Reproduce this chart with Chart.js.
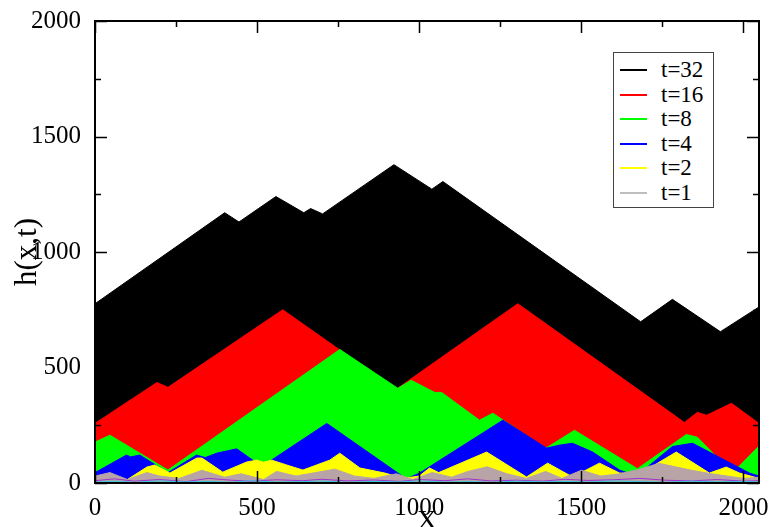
<!DOCTYPE html>
<html>
<head>
<meta charset="utf-8">
<script src="https://cdn.jsdelivr.net/npm/chart.js@4.4.0/dist/chart.umd.min.js"></script>
<style>
  html, body { margin: 0; padding: 0; background: #fff; }
  #wrap { position: relative; width: 772px; height: 527px; }
  #legend {
    position: absolute; left: 613px; top: 52px; width: 99px; height: 154px;
    border: 1px solid #444; background: #fff;
    font-family: 'Liberation Serif', 'Times New Roman', serif; font-size: 23px; color: #000;
  }
  .row { position: absolute; left: 0; width: 99px; height: 24px; line-height: 24px; }
  .sw { position: absolute; left: 6px; top: 11px; width: 27px; height: 2px; }
  .lb { position: absolute; left: 47px; top: 0; white-space: nowrap; }
</style>
</head>
<body>
<div id="wrap">
  <canvas id="chart" width="772" height="527"></canvas>
  <div id="legend"></div>
</div>
<script>
// series, top of the legend first
const labels = ['t=32', 't=16', 't=8', 't=4', 't=2', 't=1'];
const colors = ['#000000', '#ff0000', '#00ff00', '#0000ff', '#ffff00', '#b8a4a6'];
const legendColors = ['#000000', '#ff0000', '#00ff00', '#0000ff', '#ffff00', '#bebebe'];

// h(x,t) profiles, vertices
const x32 = [0, 400, 444, 558, 644, 665, 702, 922, 1039, 1073, 1683, 1781, 1929, 2048];
const h32 = [776, 1170, 1130, 1240, 1170, 1188, 1165, 1378, 1272, 1305, 698, 795, 655, 762];

const x16 = [0, 191, 225, 579, 928, 1304, 1818, 1858, 1886, 1963, 2048];
const h16 = [258, 435, 414, 750, 405, 776, 262, 306, 293, 345, 258];

const x8 = [0, 46, 225, 755, 934, 975, 1048, 1069, 1186, 1227, 1390, 1479, 1673, 1824, 1858, 1966, 2048];
const h8 = [177, 207, 56, 578, 410, 445, 392, 392, 272, 302, 150, 228, 62, 210, 198, 43, 160];

const x4 = [0, 97, 110, 138, 225, 313, 340, 375, 437, 508, 530, 715, 960, 1001, 1258, 1393, 1433, 1473, 1535, 1618, 1670, 1781, 1843, 2019, 2048];
const h4 = [45, 121, 113, 121, 45, 121, 110, 129, 148, 78, 86, 258, 18, 43, 272, 151, 164, 172, 134, 56, 30, 158, 172, 43, 30];

const x2 = [0, 100, 160, 185, 231, 314, 330, 394, 468, 499, 520, 545, 591, 641, 724, 755, 817, 894, 950, 1000, 1032, 1060, 1208, 1331, 1396, 1473, 1556, 1618, 1680, 1793, 1895, 1947, 1988, 2048];
const h2 = [25, 15, 69, 78, 43, 108, 108, 47, 91, 99, 90, 99, 78, 56, 99, 129, 65, 43, 20, 30, 65, 45, 134, 26, 86, 26, 86, 43, 40, 134, 43, 69, 43, 20];

const x1 = [0, 46, 100, 160, 200, 260, 330, 400, 450, 520, 560, 620, 680, 740, 800, 860, 930, 980, 1040, 1100, 1150, 1210, 1270, 1330, 1390, 1440, 1500, 1560, 1620, 1680, 1740, 1790, 1840, 1900, 1950, 2000, 2048];
const h1 = [30, 45, 15, 45, 30, 20, 55, 25, 40, 15, 50, 30, 45, 60, 30, 20, 40, 15, 45, 25, 50, 70, 40, 20, 50, 20, 55, 30, 40, 60, 85, 70, 55, 40, 30, 20, 25];

// faint low curves near the bottom (not in the legend)
const xLow = [0, 60, 120, 200, 280, 350, 420, 480, 560, 640, 700, 780, 860, 940, 1000, 1080, 1150, 1220, 1300, 1380, 1450, 1520, 1600, 1680, 1760, 1840, 1920, 2000, 2048];
const hPurple = [10, 18, 8, 15, 6, 20, 12, 8, 14, 10, 16, 9, 13, 7, 15, 10, 18, 9, 12, 8, 16, 11, 14, 20, 12, 9, 15, 8, 10];
const hCyan = [4, 8, 3, 9, 5, 7, 3, 10, 4, 6, 8, 3, 7, 5, 9, 4, 6, 3, 8, 5, 7, 4, 9, 6, 3, 8, 5, 7, 4];

const xTickVals = [0, 500, 1000, 1500, 2000];
const yTickVals = [0, 500, 1000, 1500, 2000];
const xMinor = [250, 750, 1250, 1750];
const yMinor = [250, 750, 1250, 1750];

const seriesX = [x32, x16, x8, x4, x2, x1];
const seriesH = [h32, h16, h8, h4, h2, h1];

function pts(xs, hs) {
    return xs.map((x, i) => ({ x: x, y: hs[i] }));
}

// dataset 0 is drawn last, so the smallest t goes first
const datasets = [
    { data: pts(xLow, hCyan), borderColor: '#30c8e0', borderWidth: 1, fill: false, pointRadius: 0 },
    { data: pts(xLow, hPurple), borderColor: '#a030d0', borderWidth: 1, fill: false, pointRadius: 0 }
];
for (let i = labels.length - 1; i >= 0; i--) {
    datasets.push({
        label: labels[i],
        data: pts(seriesX[i], seriesH[i]),
        borderColor: colors[i],
        backgroundColor: colors[i],
        borderWidth: 1,
        fill: 'origin',
        pointRadius: 0,
        tension: 0
    });
}

// legend box
const legend = document.getElementById('legend');
labels.forEach((lab, i) => {
    const row = document.createElement('div');
    row.className = 'row';
    row.style.top = (5 + i * 24.6) + 'px';
    row.innerHTML = '<span class="sw" style="background:' + legendColors[i] + '"></span><span class="lb">' + lab + '</span>';
    legend.appendChild(row);
});

const serif = "'Liberation Serif', 'Times New Roman', serif";

// inward ticks and the frame
const frame = {
    id: 'frame',
    afterDraw(chart) {
        const { ctx, chartArea: a, scales: { x, y } } = chart;
        ctx.save();
        ctx.strokeStyle = '#000';
        ctx.lineWidth = 1.5;
        ctx.beginPath();
        const tick = (vals, len) => {
            vals.forEach(v => {
                const px = Math.round(x.getPixelForValue(v)) + 0.5;
                ctx.moveTo(px, a.top); ctx.lineTo(px, a.top + len);
                ctx.moveTo(px, a.bottom); ctx.lineTo(px, a.bottom - len);
            });
        };
        const tickY = (vals, len) => {
            vals.forEach(v => {
                const py = Math.round(y.getPixelForValue(v)) + 0.5;
                ctx.moveTo(a.left, py); ctx.lineTo(a.left + len, py);
                ctx.moveTo(a.right, py); ctx.lineTo(a.right - len, py);
            });
        };
        tick(xTickVals, 12);
        tick(xMinor, 6);
        tickY(yTickVals, 12);
        tickY(yMinor, 6);
        ctx.stroke();
        ctx.lineWidth = 2;
        ctx.strokeRect(a.left, a.top, a.right - a.left, a.bottom - a.top);
        ctx.restore();
    }
};

new Chart(document.getElementById('chart'), {
    type: 'line',
    data: { datasets: datasets },
    options: {
        responsive: false,
        animation: false,
        layout: { padding: { top: 19, right: 13, left: 0, bottom: 0 } },
        plugins: { legend: { display: false }, tooltip: { enabled: false } },
        scales: {
            x: {
                type: 'linear',
                min: 0,
                max: 2048,
                grid: { display: false },
                border: { display: false },
                afterBuildTicks: s => { s.ticks = xTickVals.map(v => ({ value: v })); },
                afterFit: s => { s.height = 44; },
                ticks: { color: '#000', padding: 2, maxRotation: 0, autoSkip: false, font: { family: serif, size: 25 }, callback: v => String(v) },
                title: { display: true, text: 'X', color: '#000', font: { family: serif, size: 28 }, padding: { top: 0, bottom: -11 } }
            },
            y: {
                min: 0,
                max: 2000,
                grid: { display: false },
                border: { display: false },
                afterBuildTicks: s => { s.ticks = yTickVals.map(v => ({ value: v })); },
                afterFit: s => { s.width = 95; },
                ticks: { color: '#000', padding: 6, font: { family: serif, size: 25 }, callback: v => String(v) },
                title: { display: true, text: 'h(x,t)', color: '#000', font: { family: serif, size: 31 }, padding: { top: 9, bottom: 0 } }
            }
        }
    },
    plugins: [frame]
});
</script>
</body>
</html>
